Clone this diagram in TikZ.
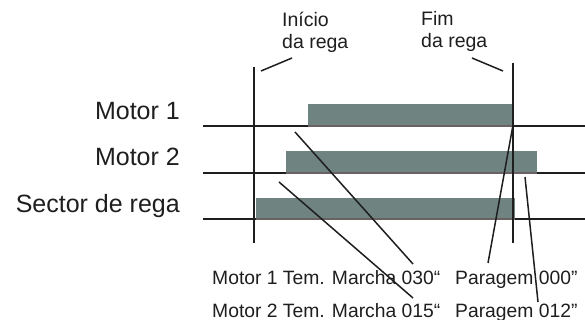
\documentclass[tikz,border=0pt]{standalone}
\usepackage{fontspec}
\setmainfont{Liberation Sans}
\definecolor{barcol}{HTML}{6F8380}
\definecolor{baredge}{HTML}{6A6262}
\definecolor{ink}{HTML}{1E1E1E}
\begin{document}
\begin{tikzpicture}[x=1pt,y=-1pt,
  rowlabel/.style={anchor=base east,inner sep=0pt,text=ink,font=\fontsize{25}{29}\selectfont},
  toplabel/.style={anchor=base west,inner sep=0pt,text=ink,font=\fontsize{19.5}{22}\selectfont},
  botlabel/.style={anchor=base west,inner sep=0pt,text=ink,font=\fontsize{19.3}{23}\selectfont},
  timeline/.style={draw=ink,line width=1.8pt},
  marker/.style={draw=ink,line width=1.8pt},
  leader/.style={draw=ink,line width=1.5pt},
  bar/.style={fill=barcol,draw=none},
  baredgeline/.style={draw=baredge,line width=1.5pt}]
\useasboundingbox (0,0) rectangle (585,320);
% row labels
\node[rowlabel] (m1) at (180,120) {Motor 1};
\node[rowlabel] (m2) at (180,166) {Motor 2};
\node[rowlabel] (sr) at (180,212) {Sector de rega};
% top labels
\node[toplabel] (ini1) at (282,27) {Início};
\node[toplabel] (ini2) at (282,49) {da rega};
\node[toplabel] (fim1) at (421,26) {Fim};
\node[toplabel] (fim2) at (421,48) {da rega};
% bottom labels
\node[botlabel] (b1) at (212,284) {Motor 1 Tem. Marcha 030“};
\node[botlabel] (b2) at (455,284) {Paragem 000”};
\node[botlabel] (b3) at (212,317) {Motor 2 Tem. Marcha 015“};
\node[botlabel] (b4) at (455,317) {Paragem 012”};
% timelines
\coordinate (t1a) at (203,126); \coordinate (t1b) at (585,126);
\coordinate (t2a) at (203,173); \coordinate (t2b) at (585,173);
\coordinate (t3a) at (203,219); \coordinate (t3b) at (585,219);
\draw[timeline] (t1a) -- (t1b);
\draw[timeline] (t2a) -- (t2b);
\draw[timeline] (t3a) -- (t3b);
% bars
\fill[bar] (308,104) rectangle (513,126);
\fill[bar] (286,151) rectangle (537,173);
\fill[bar] (256,198) rectangle (515,219);
\draw[baredgeline] (308,126) -- (513,126);
\draw[baredgeline] (286,173) -- (537,173);
\draw[baredgeline] (256,219) -- (515,219);
% start / end markers
\coordinate (sA) at (254,67); \coordinate (sB) at (254,243);
\coordinate (eA) at (513,63); \coordinate (eB) at (513,243);
\draw[marker] (sA) -- (sB);
\draw[marker] (eA) -- (eB);
% leaders
\coordinate (l1a) at (261,71); \coordinate (l1b) at (292,58);
\coordinate (l2a) at (472,58); \coordinate (l2b) at (503,71);
\coordinate (l3a) at (295,132); \coordinate (l3b) at (413,264);
\coordinate (l4a) at (279,182); \coordinate (l4b) at (413,298);
\coordinate (l5a) at (513,125); \coordinate (l5b) at (488,263);
\coordinate (l6a) at (525,177); \coordinate (l6b) at (538,302);
\draw[leader] (l1a) -- (l1b);
\draw[leader] (l2a) -- (l2b);
\draw[leader] (l3a) -- (l3b);
\draw[leader] (l4a) -- (l4b);
\draw[leader] (l5a) -- (l5b);
\draw[leader] (l6a) -- (l6b);
\end{tikzpicture}
\end{document}
